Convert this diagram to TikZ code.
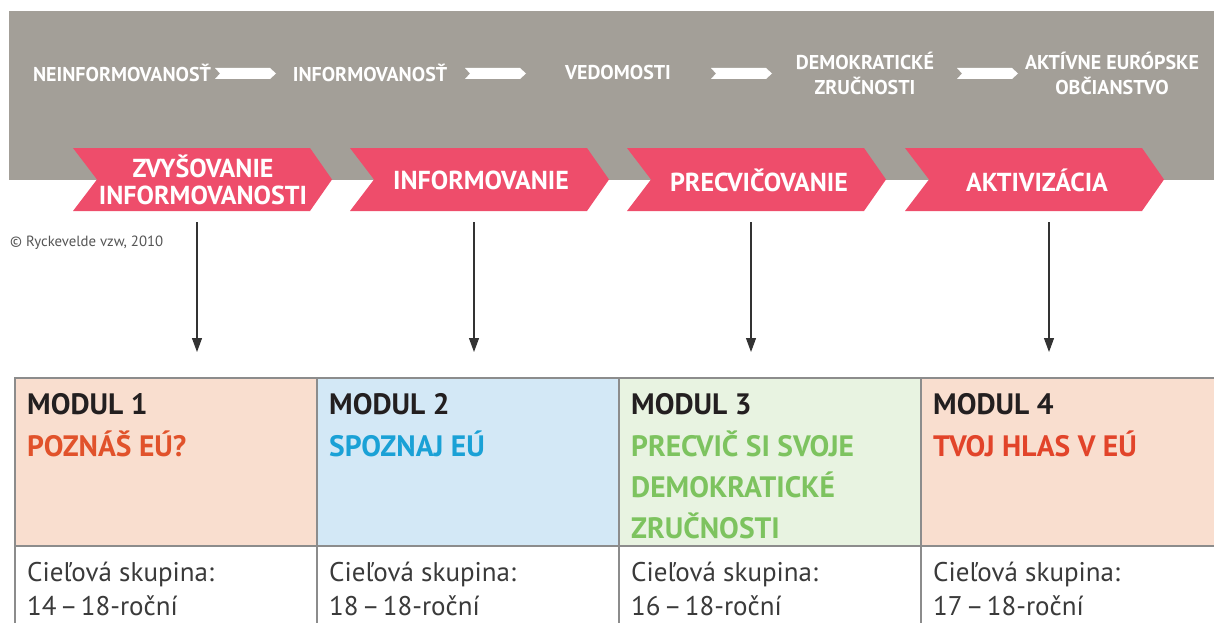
\documentclass[tikz,border=0pt]{standalone}
\usepackage{fontspec}
\setmainfont{PT Sans}
\usetikzlibrary{arrows.meta}
\definecolor{bandgray}{HTML}{A39F98}
\definecolor{chevpink}{HTML}{EE4D6B}
\definecolor{peach}{HTML}{F9DECF}
\definecolor{lblue}{HTML}{D3E8F6}
\definecolor{lgreen}{HTML}{E8F3E1}
\definecolor{bordergray}{HTML}{8C8C8C}
\definecolor{darktext}{HTML}{231F20}
\definecolor{orangetext}{HTML}{E1522B}
\definecolor{cyantext}{HTML}{1AA1D6}
\definecolor{greentext}{HTML}{7DC35F}
\definecolor{redtext}{HTML}{E2442A}
\definecolor{bodytext}{HTML}{3A3A3A}
\definecolor{arrowgray}{HTML}{333333}
\definecolor{copytext}{HTML}{555555}
\newcommand{\agedash}{\hspace{0.12em}–\hspace{0.12em}}
\tikzset{
  toplbl/.style={text=white, font=\fontsize{20}{25}\selectfont\bfseries, align=center, inner sep=0pt},
  chevlbl/.style={text=white, font=\fontsize{26}{27}\selectfont\bfseries, align=center, inner sep=0pt},
  wharr/.pic={\fill[white] (0,-5.5) -- (55,-5.5) -- (61,0) -- (55,5.5) -- (0,5.5) -- (5,0) -- cycle;},
  chev/.pic={\fill[chevpink] (0,-31.5) -- (237,-31.5) -- (259,0) -- (237,31.5) -- (0,31.5) -- (24,0) -- cycle;},
  downarr/.style={draw=arrowgray, line width=1.1pt, -{Triangle[width=10pt,length=14pt]}},
  modhead/.style={anchor=base west, inner sep=0pt, text=darktext, font=\fontsize{29.5}{32}\selectfont\bfseries},
  modsub/.style={anchor=base west, inner sep=0pt, font=\fontsize{29.5}{32}\selectfont\bfseries},
  modbody/.style={anchor=base west, inner sep=0pt, text=bodytext, font=\fontsize{27}{30}\selectfont},
  gridline/.style={draw=bordergray, line width=1.5pt}
}
\begin{document}
\begin{tikzpicture}[x=1pt,y=-1pt]
\useasboundingbox (0,0) rectangle (1214,623);
% gray band
\fill[bandgray] (9,11) rectangle (1214,180);
% top labels
\node[toplbl] (s1) at (122,73) {NEINFORMOVANOSŤ};
\node[toplbl] (s2) at (370,73) {INFORMOVANOSŤ};
\node[toplbl] (s3) at (618,73) {VEDOMOSTI};
\node[toplbl] (s4) at (865,73) {DEMOKRATICKÉ\\ZRUČNOSTI};
\node[toplbl] (s5) at (1112,73) {AKTÍVNE EURÓPSKE\\OBČIANSTVO};
% white arrows
\pic at (215,73.5) {wharr};
\pic at (465,73.5) {wharr};
\pic at (711,73.5) {wharr};
\pic at (957,73.5) {wharr};
% chevrons
\pic at (73,179.5) {chev};
\pic at (350,179.5) {chev};
\pic at (627,179.5) {chev};
\pic at (905,179.5) {chev};
\node[chevlbl] (c1) at (203,180) {ZVYŠOVANIE\\INFORMOVANOSTI};
\node[chevlbl] (c2) at (481,180) {INFORMOVANIE};
\node[chevlbl] (c3) at (759,180) {PRECVIČOVANIE};
\node[chevlbl] (c4) at (1037,180) {AKTIVIZÁCIA};
% copyright
\node[anchor=west, inner sep=0pt, text=copytext, font=\fontsize{14.8}{16}\selectfont] (copy) at (10,243) {© Ryckevelde vzw, 2010};
% arrows
\coordinate (a1s) at (197,222); \coordinate (a1e) at (197,352);
\coordinate (a2s) at (474,222); \coordinate (a2e) at (474,352);
\coordinate (a3s) at (751,222); \coordinate (a3e) at (751,352);
\coordinate (a4s) at (1049,222); \coordinate (a4e) at (1049,352);
\draw[downarr] (a1s) -- (a1e);
\draw[downarr] (a2s) -- (a2e);
\draw[downarr] (a3s) -- (a3e);
\draw[downarr] (a4s) -- (a4e);
% table fills
\fill[peach] (15,378) rectangle (317,546);
\fill[lblue] (317,378) rectangle (619,546);
\fill[lgreen] (619,378) rectangle (921,546);
\fill[peach] (921,378) rectangle (1214,546);
% table lines
\draw[gridline] (1214,378) -- (15,378) -- (15,623);
\draw[gridline] (15,546) -- (1214,546);
\draw[gridline] (317,378) -- (317,623);
\draw[gridline] (619,378) -- (619,623);
\draw[gridline] (921,378) -- (921,623);
% module texts
\node[modhead] (m1) at (27,414) {MODUL 1};
\node[modsub, text=orangetext] (m1s) at (27,456) {POZNÁŠ EÚ?};
\node[modbody] (m1a) at (27,581) {Cieľová skupina:};
\node[modbody] (m1b) at (27,615) {14\agedash 18-roční};
\node[modhead] (m2) at (329,414) {MODUL 2};
\node[modsub, text=cyantext] (m2s) at (329,456) {SPOZNAJ EÚ};
\node[modbody] (m2a) at (329,581) {Cieľová skupina:};
\node[modbody] (m2b) at (329,615) {18\agedash 18-roční};
\node[modhead] (m3) at (631,414) {MODUL 3};
\node[modsub, text=greentext] (m3s) at (631,456) {PRECVIČ SI SVOJE};
\node[modsub, text=greentext] (m3t) at (631,497) {DEMOKRATICKÉ};
\node[modsub, text=greentext] (m3u) at (631,538) {ZRUČNOSTI};
\node[modbody] (m3a) at (631,581) {Cieľová skupina:};
\node[modbody] (m3b) at (631,615) {16\agedash 18-roční};
\node[modhead] (m4) at (933,414) {MODUL 4};
\node[modsub, text=redtext] (m4s) at (933,456) {TVOJ HLAS V EÚ};
\node[modbody] (m4a) at (933,581) {Cieľová skupina:};
\node[modbody] (m4b) at (933,615) {17\agedash 18-roční};
\end{tikzpicture}
\end{document}
